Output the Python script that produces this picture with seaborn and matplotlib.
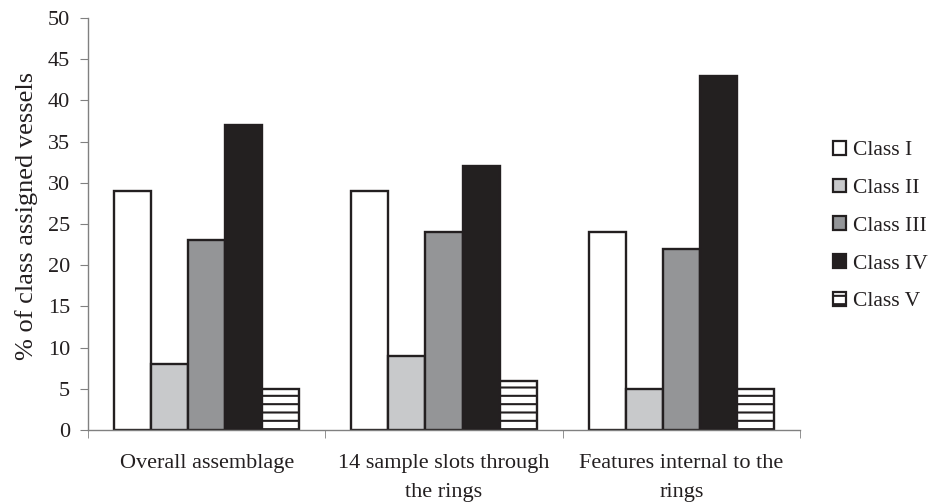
import matplotlib
matplotlib.use("Agg")
import matplotlib.pyplot as plt
import seaborn as sns
import pandas as pd
from matplotlib.patches import Patch

categories = ["Overall assemblage", "14 sample slots through\nthe rings", "Features internal to the\nrings"]
classes = ["Class I", "Class II", "Class III", "Class IV", "Class V"]
class_i = [29, 29, 24]
class_ii = [8, 9, 5]
class_iii = [23, 24, 22]
class_iv = [37, 32, 43]
class_v = [5, 6, 5]

colors = ["#ffffff", "#c8c9cb", "#939598", "#231f20", "#ffffff"]
edge = "#231f20"

rows = []
for cls, vals in zip(classes, [class_i, class_ii, class_iii, class_iv, class_v]):
    for cat, v in zip(categories, vals):
        rows.append({"cat": cat, "cls": cls, "val": v})
df = pd.DataFrame(rows)

sns.set_style("white")
plt.rcParams["font.family"] = ["Liberation Serif", "DejaVu Serif"]
plt.rcParams["hatch.linewidth"] = 1.5
plt.rcParams["hatch.color"] = edge

fig = plt.figure(figsize=(9.3, 5.03), dpi=100)
ax = fig.add_axes([88/930, 73/503, 712/930, 412/503])

sns.barplot(data=df, x="cat", y="val", hue="cls", order=categories, hue_order=classes,
            palette=colors, width=0.78, edgecolor=edge, linewidth=1.7, ax=ax, legend=False)

for cont, cls in zip(ax.containers, classes):
    for bar in cont:
        if cls == "Class V":
            bar.set_hatch("--")
            bar.set_edgecolor(edge)

ax.set_xlim(-0.5, 2.5)
ax.set_ylim(0, 50)
ax.set_yticks(range(0, 51, 5))
ax.set_xlabel("")
ax.set_ylabel("% of class assigned vessels", fontsize=19, color="#231f20")
ax.yaxis.set_label_coords(-50/712, 0.52)

for s in ["top", "right"]:
    ax.spines[s].set_visible(False)
for s in ["left", "bottom"]:
    ax.spines[s].set_color("#808080")
    ax.spines[s].set_linewidth(1.0)

ax.set_xticks([-0.5, 0.5, 1.5, 2.5], minor=True)
ax.tick_params(axis="x", which="minor", length=6, color="#808080", direction="out", bottom=True)
ax.tick_params(axis="x", which="major", length=0, labelsize=16, pad=17)
ax.tick_params(axis="y", length=6, color="#808080", direction="out", left=True, labelsize=16, pad=7)
ax.set_xticks([0, 1, 2])
ax.set_xticklabels(categories, linespacing=1.75, color="#231f20", fontsize=16)
for lbl in ax.get_yticklabels():
    lbl.set_color("#231f20")

handles = []
for cls, c in zip(classes, colors):
    h = Patch(facecolor=c, edgecolor=edge, linewidth=1.6, hatch="--" if cls == "Class V" else None)
    handles.append(h)
leg = fig.legend(handles, classes, loc="upper left", bbox_to_anchor=(833/930, 1 - 141/503), frameon=False,
                 borderpad=0, borderaxespad=0,
                 fontsize=15.5, handlelength=0.6, handleheight=0.6, handletextpad=0.35, labelspacing=0.85)
for t in leg.get_texts():
    t.set_color("#231f20")

fig.savefig("out.png", dpi=100)
